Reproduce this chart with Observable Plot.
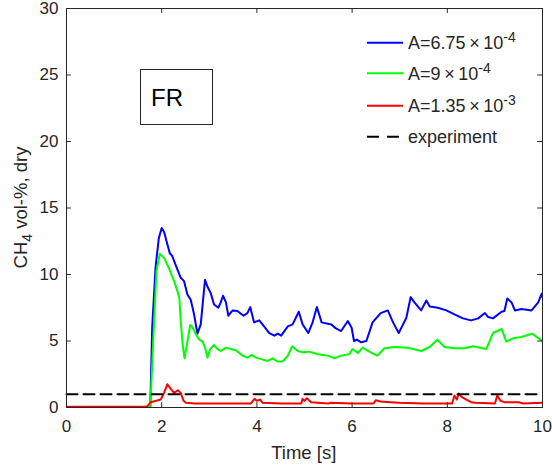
<!DOCTYPE html>
<html>
<head>
<meta charset="utf-8">
<script src="https://cdn.jsdelivr.net/npm/d3@7"></script>
<script src="https://cdn.jsdelivr.net/npm/@observablehq/plot@0.6"></script>
<style>
  html, body { margin: 0; padding: 0; background: #fff; }
  #chart { width: 552px; height: 470px; }
</style>
</head>
<body>
<div id="chart"></div>
<script>
// ---- data ----
const xTicks = [0, 2, 4, 6, 8, 10];
const yTicks = [0, 5, 10, 15, 20, 25, 30];

const seriesNames = ["A=6.75", "A=9", "A=1.35", "experiment"];
const seriesExponents = ["-4", "-4", "-3", null];
const seriesColors = ["#0000ff", "#00ff00", "#ff0000", "#000000"];

const blueTime = [
  0, 1.76, 1.8, 1.87, 1.94, 2.0, 2.05, 2.12, 2.17, 2.22,
  2.29, 2.4, 2.47, 2.54, 2.61, 2.68, 2.75, 2.82, 2.91, 2.96,
  3.03, 3.1, 3.19, 3.24, 3.29, 3.35, 3.4, 3.49, 3.59, 3.72,
  3.8, 3.86, 3.94, 4.05, 4.15, 4.26, 4.37, 4.44, 4.51, 4.65,
  4.75, 4.88, 4.96, 5.08, 5.17, 5.26, 5.36, 5.49, 5.56, 5.66,
  5.77, 5.91, 5.99, 6.04, 6.1, 6.19, 6.3, 6.43, 6.6, 6.75,
  6.86, 6.98, 7.05, 7.14, 7.23, 7.31, 7.45, 7.56, 7.63, 7.8,
  7.98, 8.15, 8.33, 8.5, 8.65, 8.79, 8.86, 8.96, 9.14, 9.2,
  9.26, 9.35, 9.42, 9.56, 9.77, 9.91, 9.98, 10
];
const blueCH4 = [
  0, 0, 6, 10.5, 12.75, 13.5, 13.2, 12.25, 11.6, 11.4,
  10.75, 9.75, 9.5, 8.5, 8.1, 7.0, 5.55, 6.25, 9.6, 9.1,
  8.6, 7.75, 7.5, 7.9, 8.4, 7.9, 6.9, 7.3, 7.25, 6.9,
  7.1, 7.55, 6.4, 6.55, 6.1, 5.6, 5.4, 5.55, 5.4, 6.1,
  6.25, 7.2, 6.25, 5.6, 6.4, 7.55, 6.4, 6.3, 6.25, 5.95,
  5.75, 6.5, 6.0, 5.0, 5.1, 4.9, 5.0, 6.4, 7.1, 7.3,
  6.4, 5.6, 6.1, 6.75, 8.3, 7.9, 7.3, 8.05, 7.6, 7.5,
  7.3, 7.0, 6.7, 6.55, 6.7, 7.1, 6.8, 6.7, 7.2, 7.25,
  8.2, 7.9, 7.3, 7.4, 7.3, 7.9, 8.55, 8.3
];

const greenTime = [
  0, 1.75, 1.77, 1.84, 1.89, 1.96, 2.05, 2.15, 2.26, 2.33,
  2.37, 2.4, 2.44, 2.48, 2.53, 2.6, 2.65, 2.72, 2.79, 2.86,
  2.91, 2.96, 3.02, 3.1, 3.17, 3.24, 3.35, 3.45, 3.56, 3.7,
  3.8, 3.89, 3.98, 4.12, 4.23, 4.33, 4.44, 4.54, 4.65, 4.74,
  4.86, 4.96, 5.1, 5.28, 5.49, 5.63, 5.77, 5.94, 6.01, 6.12,
  6.22, 6.36, 6.53, 6.68, 6.89, 7.17, 7.45, 7.63, 7.79, 7.94,
  8.15, 8.36, 8.54, 8.82, 8.96, 9.14, 9.24, 9.38, 9.56, 9.78,
  10
];
const greenCH4 = [
  0, 0, 0.75, 6.5, 10.25, 11.55, 11.25, 10.5, 9.5, 8.75,
  8.25, 6.5, 4.75, 3.7, 4.75, 6.2, 6.0, 5.5, 5.1, 4.95,
  4.5, 3.75, 4.4, 4.7, 4.4, 4.25, 4.5, 4.4, 4.3, 3.9,
  3.75, 3.95, 3.75, 3.6, 3.5, 3.7, 3.45, 3.45, 3.9, 4.6,
  4.25, 4.15, 4.2, 4.0, 3.9, 3.7, 3.9, 4.0, 4.4, 4.1,
  4.5, 4.2, 3.9, 4.45, 4.55, 4.5, 4.25, 4.55, 5.1, 4.55,
  4.45, 4.45, 4.6, 4.4, 5.6, 5.9, 4.95, 5.2, 5.3, 5.55,
  5.0
];

const redTime = [
  0, 1.65, 1.7, 1.77, 1.98, 2.05, 2.12, 2.19, 2.26, 2.34,
  2.4, 2.46, 2.51, 2.7, 3.2, 3.87, 3.95, 4.0, 4.07, 4.12,
  4.5, 4.93, 4.96, 5.0, 5.05, 5.14, 5.5, 5.56, 6.0, 6.45,
  6.5, 6.6, 6.8, 7.0, 7.5, 8.1, 8.15, 8.2, 8.24, 8.3,
  8.4, 8.5, 8.6, 9.0, 9.05, 9.12, 9.2, 9.5, 9.6, 10
];
const redCH4 = [
  0.05, 0.05, 0.1, 0.4, 0.6, 1.1, 1.75, 1.4, 1.1, 1.3,
  1.1, 0.5, 0.35, 0.3, 0.3, 0.3, 0.65, 0.5, 0.6, 0.35,
  0.3, 0.3, 0.65, 0.5, 0.7, 0.4, 0.3, 0.35, 0.3, 0.3,
  0.55, 0.45, 0.4, 0.35, 0.3, 0.3, 0.9, 0.6, 1.05, 0.8,
  0.6, 0.4, 0.35, 0.3, 0.9, 0.5, 0.4, 0.4, 0.3, 0.35
];

const expTime = [0, 10];
const expCH4 = [1.0, 1.0];

// ---- build tables ----
const toRows = (ts, vs) => ts.map((t, i) => ({t, v: vs[i]}));
const blue = toRows(blueTime, blueCH4);
const green = toRows(greenTime, greenCH4);
const red = toRows(redTime, redCH4);
const exp = toRows(expTime, expCH4);

const FONT = "'Liberation Sans', Arial, Helvetica, sans-serif";
const AX = "#262626";

const plot = Plot.plot({
  width: 552,
  height: 470,
  marginLeft: 66,
  marginRight: 10,
  marginTop: 8,
  marginBottom: 63,
  style: {fontFamily: FONT, fontSize: "16px", color: AX, background: "#fff"},
  x: {domain: [0, 10]},
  y: {domain: [0, 30]},
  marks: [
    Plot.line(blue, {x: "t", y: "v", stroke: seriesColors[0], strokeWidth: 2, clip: true}),
    Plot.line(green, {x: "t", y: "v", stroke: seriesColors[1], strokeWidth: 2, clip: true}),
    Plot.line(red, {x: "t", y: "v", stroke: seriesColors[2], strokeWidth: 2, clip: true}),
    Plot.line(exp, {x: "t", y: "v", stroke: seriesColors[3], strokeWidth: 2, strokeDasharray: "11,6"}),
    // inward ticks (MATLAB box style)
    Plot.ruleX(xTicks, {x: d => d, y1: 0, y2: 0.37, stroke: AX, strokeWidth: 1}),
    Plot.ruleX(xTicks, {x: d => d, y1: 29.63, y2: 30, stroke: AX, strokeWidth: 1}),
    Plot.ruleY(yTicks, {y: d => d, x1: 0, x2: 0.1, stroke: AX, strokeWidth: 1}),
    Plot.ruleY(yTicks, {y: d => d, x1: 9.9, x2: 10, stroke: AX, strokeWidth: 1}),
    Plot.frame({stroke: AX, strokeWidth: 1}),
    Plot.axisX(xTicks, {tickSize: 0, tickPadding: 12, label: null, fontSize: 17, fill: AX}),
    Plot.axisY(yTicks, {tickSize: 0, tickPadding: 8, label: null, fontSize: 17, fill: AX})
  ]
});

document.getElementById("chart").appendChild(plot);

// ---- decorations: axis titles, legend, annotation box ----
const svg = d3.select(plot);
const x0 = 66, x1 = 541.5, y0 = 8, y1 = 407;

svg.append("text")
  .attr("x", (x0 + x1) / 2).attr("y", 459)
  .attr("text-anchor", "middle")
  .attr("font-family", FONT).attr("font-size", 18.5).attr("fill", AX)
  .text("Time [s]");

const yl = svg.append("text")
  .attr("transform", `translate(27,${(y0 + y1) / 2}) rotate(-90)`)
  .attr("text-anchor", "middle")
  .attr("font-family", FONT).attr("font-size", 18.5).attr("fill", AX);
yl.append("tspan").text("CH");
yl.append("tspan").attr("font-size", 14).attr("dy", 5).text("4");
yl.append("tspan").attr("dy", -5).text(" vol-%, dry");

// legend
const legY = [42.7, 73.3, 105.7, 136.7];
seriesNames.forEach((name, i) => {
  const g = svg.append("g");
  g.append("line")
    .attr("x1", 367).attr("x2", i === 3 ? 399 : 403)
    .attr("y1", legY[i]).attr("y2", legY[i])
    .attr("stroke", seriesColors[i]).attr("stroke-width", 2)
    .attr("stroke-dasharray", i === 3 ? "12,8" : null);
  const t = g.append("text")
    .attr("x", 408).attr("y", legY[i])
    .attr("dy", "0.36em")
    .attr("text-anchor", "start")
    .attr("font-family", FONT).attr("font-size", 18).attr("fill", AX);
  if (seriesExponents[i]) {
    t.append("tspan").text(name + "\u2009\u00d7\u200910");
    t.append("tspan").attr("font-size", 14).attr("dy", -7).text(seriesExponents[i]);
  } else {
    t.text(name);
  }
});

// "FR" annotation box
svg.append("rect")
  .attr("x", 140.5).attr("y", 69.5).attr("width", 72).attr("height", 55)
  .attr("fill", "#fff").attr("stroke", AX).attr("stroke-width", 1);
svg.append("text")
  .attr("x", 151).attr("y", 97).attr("dy", "0.36em")
  .attr("text-anchor", "start")
  .attr("font-family", FONT).attr("font-size", 24).attr("fill", "#000")
  .text("FR");
</script>
</body>
</html>
